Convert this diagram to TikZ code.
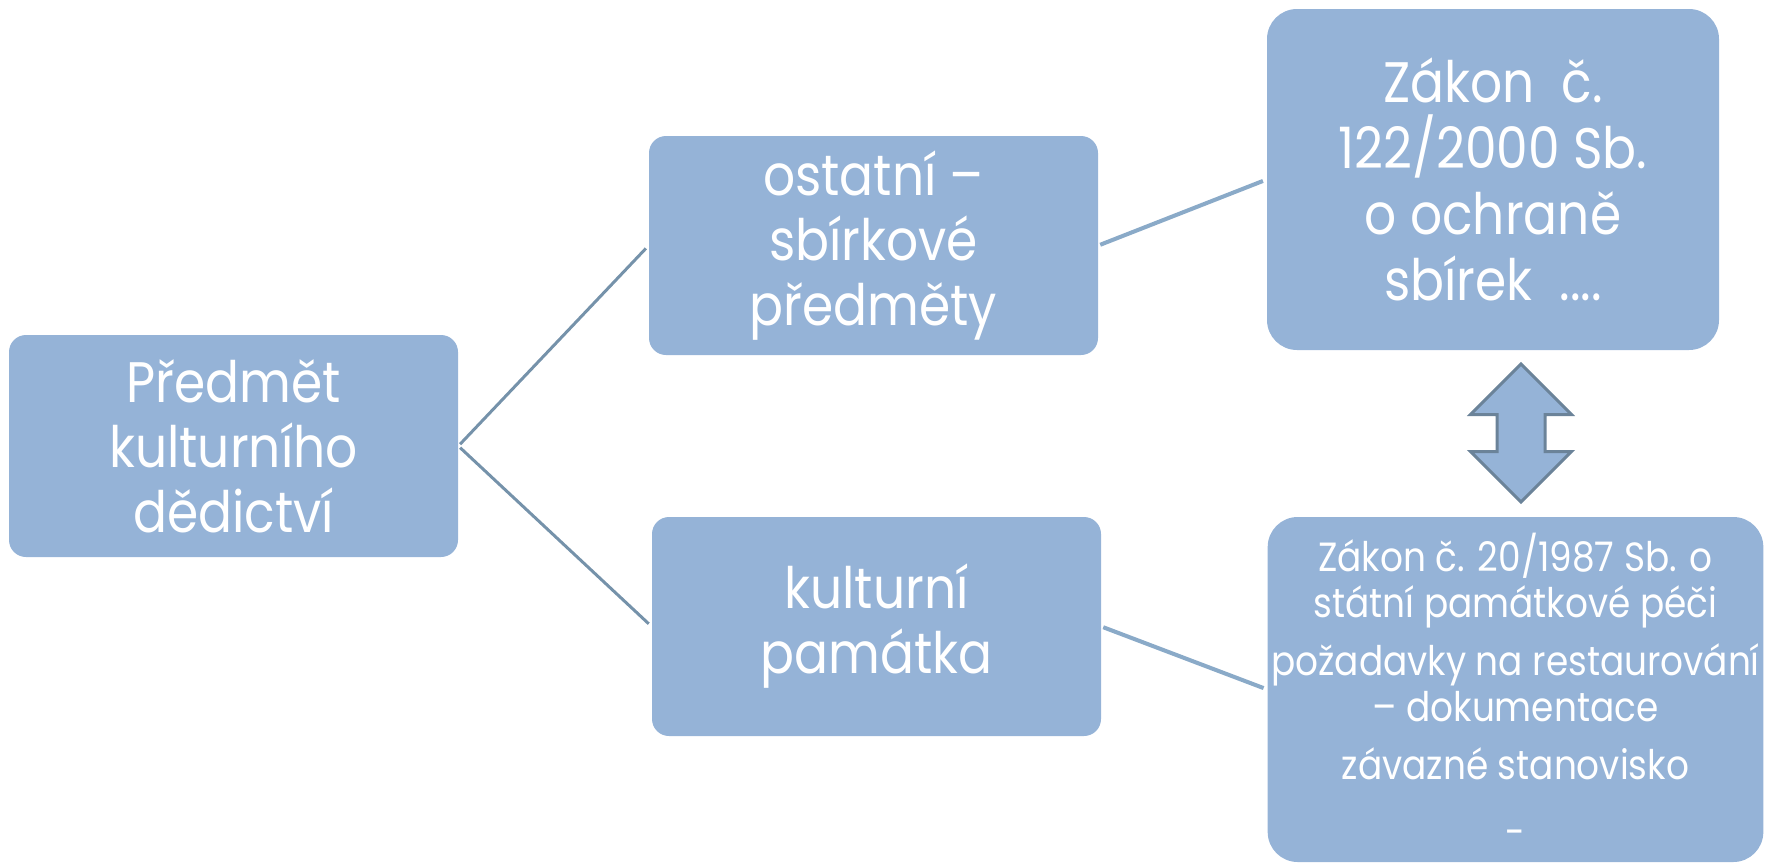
\documentclass[tikz,border=0pt]{standalone}
\usepackage{fontspec}
\setmainfont{Poppins}[FakeStretch=0.88]
\usepackage{xcolor}
\usepackage{tikz}
\usetikzlibrary{shapes.arrows, positioning}
\definecolor{boxblue}{HTML}{95B3D7}
\definecolor{treeline}{HTML}{7592AA}
\definecolor{lawline}{HTML}{8AAAC8}
\definecolor{arrowedge}{HTML}{6B8399}
\tikzstyle{topic} = [rectangle, rounded corners=0.34cm, minimum width=8.98cm, minimum height=4.38cm, align=center, fill=boxblue, text=white, font=\fontsize{32.5}{37}\selectfont]
\tikzstyle{law} = [rectangle, rounded corners=0.6cm, align=center, fill=boxblue, text=white]
\tikzstyle{branch} = [draw=treeline, line width=1.7pt, shorten <=0.05cm, shorten >=0.08cm]
\tikzstyle{link} = [draw=lawline, line width=2.3pt, shorten <=0.04cm, shorten >=0.08cm]

\begin{document}
\begin{tikzpicture}[node distance=12.8cm]
\useasboundingbox (0,0) rectangle (35.42,-17.34);

% Root
\node (root) [topic, minimum height=4.44cm] at (4.67,-8.92) {Předmět\\kulturního\\dědictví};

% Second level
\node (ostatni) [topic, right of=root, yshift=4.01cm] {ostatní –\\sbírkové\\předměty};
\node (pamatka) [topic, right of=root, xshift=0.06cm, yshift=-3.61cm] {kulturní\\památka};

% Laws
\node (zakon122) [law, right of=ostatni, xshift=-0.41cm, yshift=1.32cm, minimum width=9.04cm, minimum height=6.82cm, font=\fontsize{32.5}{37.5}\selectfont] {Zákon\ \ č.\\122/2000 Sb.\\o ochraně\\sbírek\ \ ....};
\node (zakon20) [law, right of=pamatka, xshift=-0.02cm, yshift=-1.26cm, minimum width=9.9cm, minimum height=6.9cm, inner sep=2pt, font=\fontsize{23.2}{26.2}\selectfont] {Zákon č. 20/1987 Sb. o\\státní památkové péči\\[0.24cm]požadavky na restaurování\\– dokumentace\\[0.24cm]závazné stanovisko\\[0.42cm]-};

% Double arrow
\node (vztah) [double arrow, shape border rotate=90, fill=boxblue, draw=arrowedge, line width=1.7pt, minimum height=2.76cm, minimum width=1.96cm, double arrow head extend=0.53cm, inner sep=0.45cm, below of=zakon122, node distance=5.07cm, xshift=0.56cm] {};

% Lines
\draw [branch] (root.east) -- (ostatni.west);
\draw [branch] (root.east) -- (pamatka.west);
\draw [link] (ostatni.east) -- (zakon122.west);
\draw [link] (pamatka.east) -- (zakon20.west);

\end{tikzpicture}
\end{document}
